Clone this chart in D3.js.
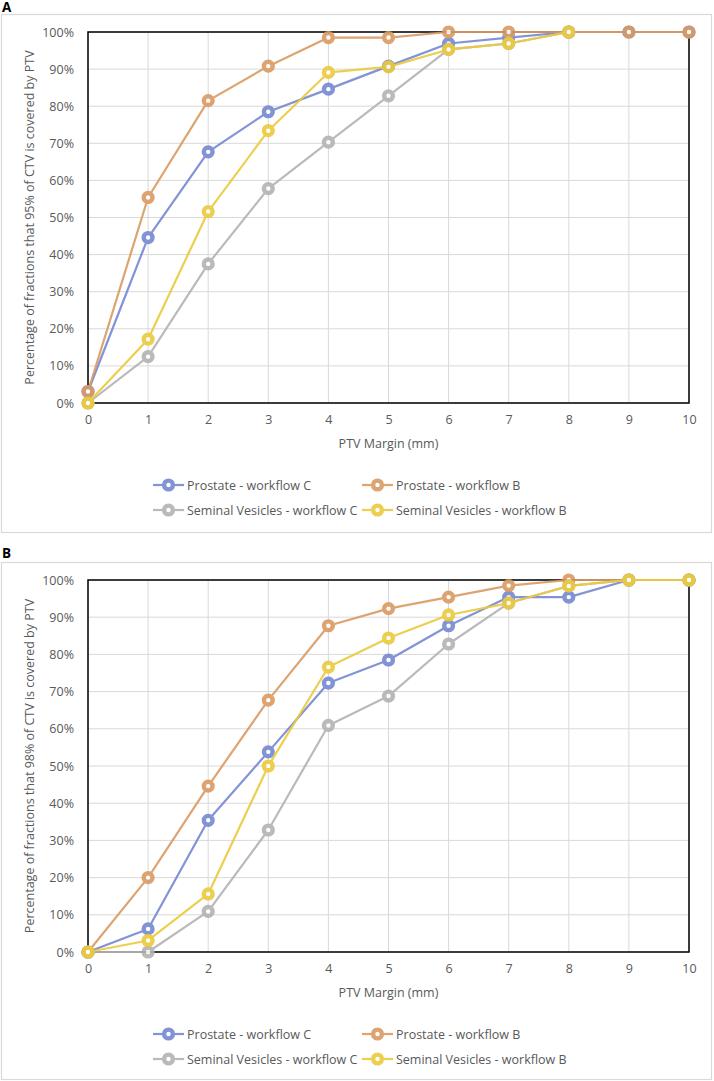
<!DOCTYPE html>
<html>
<head>
<meta charset="utf-8">
<script src="https://cdn.jsdelivr.net/npm/d3@7"></script>
<style>
  html, body { margin: 0; padding: 0; background: #fff; }
  svg { display: block; }
  text { font-family: "Open Sans", "Noto Sans", sans-serif; }
</style>
</head>
<body>
<svg id="chart" width="714" height="1081"></svg>
<script>
// ---------- data ----------
const margins = [0, 1, 2, 3, 4, 5, 6, 7, 8, 9, 10];
const yTicks = [0, 10, 20, 30, 40, 50, 60, 70, 80, 90, 100];
const seriesNames = ["Prostate - workflow C", "Prostate - workflow B",
                     "Seminal Vesicles - workflow C", "Seminal Vesicles - workflow B"];
const seriesColors = ["#7588d2", "#da9b63", "#b3b3b3", "#ecca3c"];

// Panel A: 95% of CTV covered
const panelA_prostateC = [3.1, 44.6, 67.7, 78.5, 84.6, 90.8, 96.9, 98.5, 100, 100, 100];
const panelA_prostateB = [3.1, 55.4, 81.5, 90.8, 98.5, 98.5, 100, 100, 100, 100, 100];
const panelA_svC       = [0, 12.5, 37.5, 57.8, 70.3, 82.8, 95.3, 96.9, 100, null, null];
const panelA_svB       = [0, 17.2, 51.6, 73.4, 89.1, 90.6, 95.3, 96.9, 100, null, null];

// Panel B: 98% of CTV covered
const panelB_prostateC = [0, 6.2, 35.4, 53.8, 72.3, 78.5, 87.7, 95.4, 95.4, 100, 100];
const panelB_prostateB = [0, 20.0, 44.6, 67.7, 87.7, 92.3, 95.4, 98.5, 100, 100, 100];
const panelB_svC       = [0, 0, 10.9, 32.8, 60.9, 68.8, 82.8, 93.8, 98.4, 100, 100];
const panelB_svB       = [0, 3.1, 15.6, 50.0, 76.6, 84.4, 90.6, 93.8, 98.4, 100, 100];

const panels = [
  { label: "A", yTitle: "Percentage of fractions that 95% of CTV is covered by PTV",
    series: [panelA_prostateC, panelA_prostateB, panelA_svC, panelA_svB],
    boxTop: 14, boxBottom: 532, plotTop: 32, plotBottom: 403, labelY: 12 },
  { label: "B", yTitle: "Percentage of fractions that 98% of CTV is covered by PTV",
    series: [panelB_prostateC, panelB_prostateB, panelB_svC, panelB_svB],
    boxTop: 562, boxBottom: 1079, plotTop: 580, plotBottom: 952, labelY: 558 }
];

// ---------- drawing ----------
const svg = d3.select("#chart");
const plotLeft = 88, plotRight = 689;
const textColor = "#595959";
const fs = 12.5;

panels.forEach(p => {
  const g = svg.append("g");

  // outer chart box
  g.append("rect")
    .attr("x", 1.5).attr("y", p.boxTop + 0.5)
    .attr("width", 710).attr("height", p.boxBottom - p.boxTop)
    .attr("fill", "#fff").attr("stroke", "#d9d9d9").attr("stroke-width", 1.2);

  // panel letter
  g.append("text").attr("x", 2).attr("y", p.labelY)
    .attr("font-size", 13.5).attr("font-weight", "bold").attr("fill", "#000")
    .text(p.label);

  const x = d3.scaleLinear().domain([0, 10]).range([plotLeft, plotRight]);
  const y = d3.scaleLinear().domain([0, 100]).range([p.plotBottom, p.plotTop]);

  // gridlines
  g.append("g").selectAll("line.h").data(yTicks).join("line")
    .attr("x1", plotLeft).attr("x2", plotRight)
    .attr("y1", d => y(d)).attr("y2", d => y(d))
    .attr("stroke", "#d9d9d9").attr("stroke-width", 1);
  g.append("g").selectAll("line.v").data(margins).join("line")
    .attr("x1", d => x(d)).attr("x2", d => x(d))
    .attr("y1", p.plotTop).attr("y2", p.plotBottom)
    .attr("stroke", "#d9d9d9").attr("stroke-width", 1);

  // plot frame
  g.append("rect")
    .attr("x", plotLeft).attr("y", p.plotTop)
    .attr("width", plotRight - plotLeft).attr("height", p.plotBottom - p.plotTop)
    .attr("fill", "none").attr("stroke", "#000").attr("stroke-width", 1.5);

  // y axis
  const yAxis = d3.axisLeft(y).tickValues(yTicks).tickFormat(d => d + "%").tickSize(0).tickPadding(14);
  const ya = g.append("g").attr("transform", `translate(${plotLeft},0)`).call(yAxis);
  ya.select(".domain").remove();
  ya.selectAll("text").attr("font-size", fs).attr("fill", textColor)
    .attr("font-family", "'Open Sans', sans-serif");

  // x axis
  const xAxis = d3.axisBottom(x).tickValues(margins).tickFormat(d3.format("d")).tickSize(0).tickPadding(12);
  const xa = g.append("g").attr("transform", `translate(0,${p.plotBottom})`).call(xAxis);
  xa.select(".domain").remove();
  xa.selectAll("text").attr("font-size", fs).attr("fill", textColor)
    .attr("font-family", "'Open Sans', sans-serif");

  // axis titles
  g.append("text")
    .attr("x", (plotLeft + plotRight) / 2).attr("y", p.plotBottom + 45)
    .attr("text-anchor", "middle").attr("font-size", fs).attr("fill", textColor)
    .text("PTV Margin (mm)");
  const cy = (p.plotTop + p.plotBottom) / 2;
  g.append("text")
    .attr("transform", `translate(34,${cy}) rotate(-90)`)
    .attr("text-anchor", "middle").attr("font-size", fs).attr("fill", textColor)
    .text(p.yTitle);

  // series
  const line = d3.line().defined(d => d.v !== null).x(d => x(d.m)).y(d => y(d.v));
  p.series.forEach((vals, i) => {
    const pts = margins.map((m, k) => ({ m: m, v: vals[k] }));
    const sg = g.append("g").attr("opacity", 0.9);
    sg.append("path").datum(pts).attr("d", line)
      .attr("fill", "none").attr("stroke", seriesColors[i]).attr("stroke-width", 2.2)
      .attr("stroke-linejoin", "round");
    sg.selectAll("circle").data(pts.filter(d => d.v !== null)).join("circle")
      .attr("cx", d => x(d.m)).attr("cy", d => y(d.v)).attr("r", 4.4)
      .attr("fill", "#fff").attr("stroke", seriesColors[i]).attr("stroke-width", 4.4);
  });

  // legend
  const legPos = [
    { lx: 153, ty: p.plotBottom + 82 }, { lx: 362, ty: p.plotBottom + 82 },
    { lx: 153, ty: p.plotBottom + 107 }, { lx: 362, ty: p.plotBottom + 107 }
  ];
  seriesNames.forEach((name, i) => {
    const lp = legPos[i];
    const lg = g.append("g").attr("opacity", 0.9);
    lg.append("line").attr("x1", lp.lx).attr("x2", lp.lx + 31)
      .attr("y1", lp.ty).attr("y2", lp.ty)
      .attr("stroke", seriesColors[i]).attr("stroke-width", 2.2);
    lg.append("circle").attr("cx", lp.lx + 15.5).attr("cy", lp.ty).attr("r", 4.4)
      .attr("fill", "#fff").attr("stroke", seriesColors[i]).attr("stroke-width", 4.4);
    g.append("text").attr("x", lp.lx + 34).attr("y", lp.ty)
      .attr("dominant-baseline", "central").attr("font-size", fs).attr("fill", textColor)
      .text(name);
  });
});
</script>
</body>
</html>
